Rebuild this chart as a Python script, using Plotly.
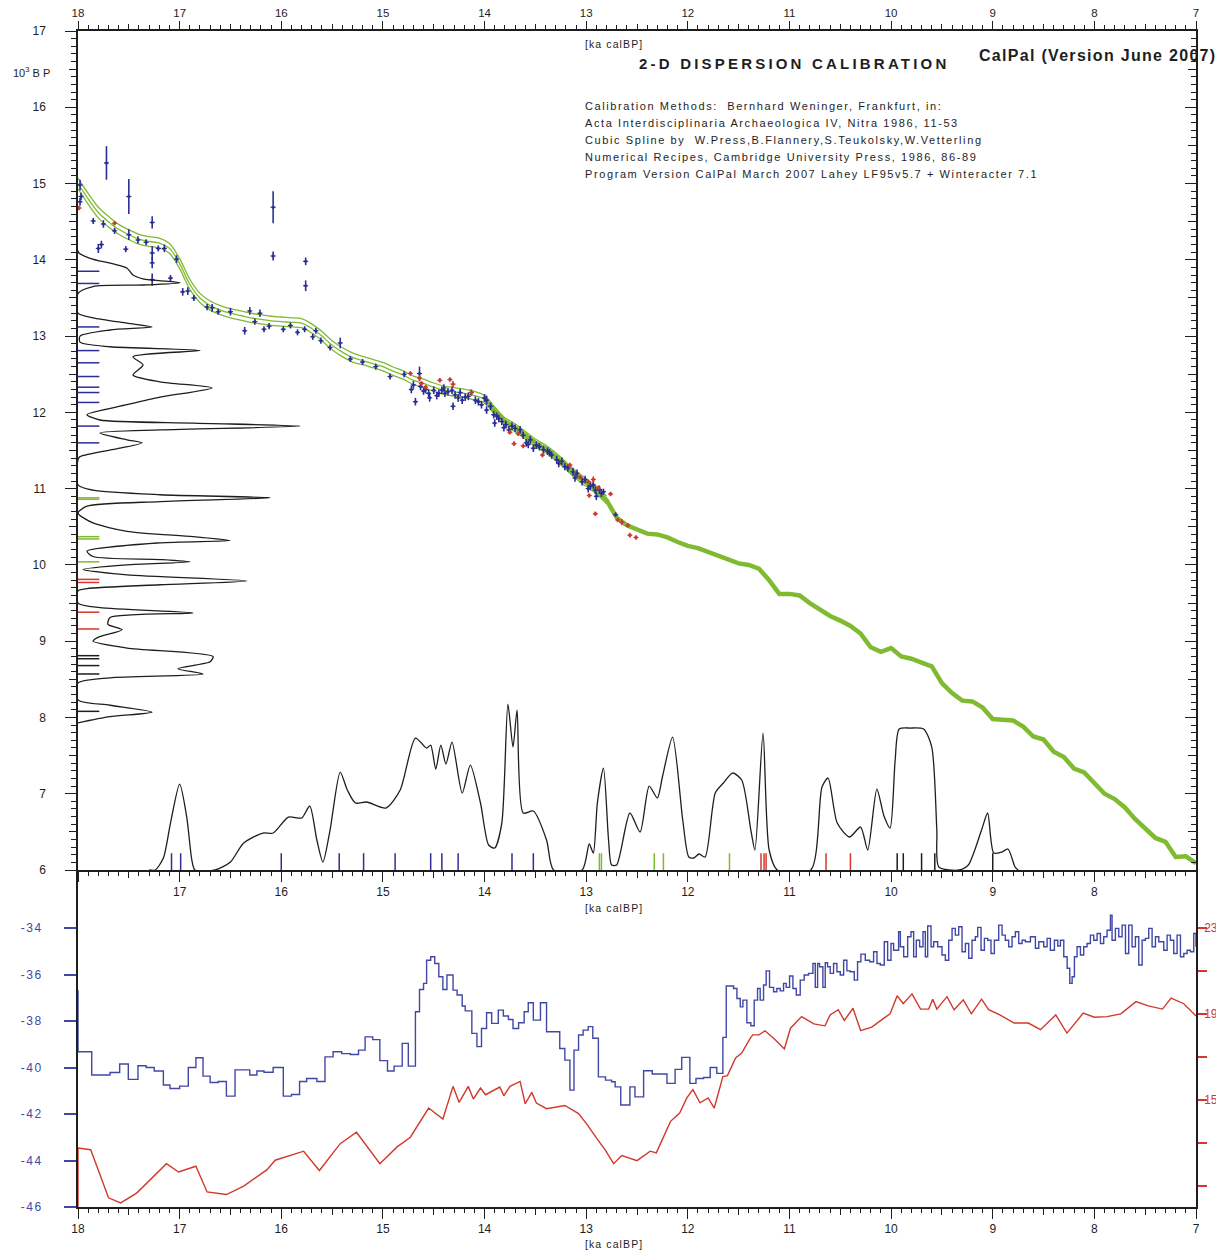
import plotly.graph_objects as go

# ---------------- data ----------------
cal_ka = [18.0,17.9,17.8,17.7,17.6,17.5,17.4,17.3,17.2,17.1,17.0,16.9,16.8,16.7,16.6,16.5,16.4,16.3,16.2,16.1,
          16.0,15.9,15.8,15.7,15.6,15.5,15.4,15.3,15.2,15.1,15.0,14.9,14.8,14.7,14.6,14.5,14.4,14.3,14.2,14.1,
          14.0,13.9,13.8,13.7,13.6,13.5,13.4,13.3,13.2,13.1,13.0,12.9,12.8,12.7,12.6,12.5,12.4,12.3,12.2,12.1,
          12.0,11.9,11.8,11.7,11.6,11.5,11.4,11.3,11.2,11.1,11.0,10.9,10.8,10.7,10.6,10.5,10.4,10.3,10.2,10.1,
          10.0,9.9,9.8,9.7,9.6,9.5,9.4,9.3,9.2,9.1,9.0,8.9,8.8,8.7,8.6,8.5,8.4,8.3,8.2,8.1,
          8.0,7.9,7.8,7.7,7.6,7.5,7.4,7.3,7.2,7.1,7.0]
cal_bp = [15.00,14.80,14.62,14.50,14.40,14.33,14.27,14.24,14.22,14.15,13.95,13.68,13.50,13.40,13.34,13.30,13.27,13.24,13.22,13.20,
          13.19,13.18,13.17,13.10,13.00,12.88,12.79,12.72,12.68,12.64,12.60,12.54,12.49,12.42,12.38,12.33,12.29,12.27,12.25,12.22,
          12.17,12.02,11.88,11.80,11.70,11.60,11.52,11.42,11.30,11.18,11.08,10.98,10.85,10.62,10.52,10.46,10.41,10.40,10.36,10.30,
          10.25,10.22,10.17,10.12,10.08,10.02,10.00,9.95,9.80,9.62,9.62,9.60,9.50,9.42,9.33,9.27,9.20,9.10,8.92,8.86,
          8.91,8.80,8.77,8.72,8.67,8.45,8.32,8.22,8.21,8.13,7.98,7.97,7.96,7.88,7.75,7.71,7.55,7.48,7.33,7.28,
          7.15,7.00,6.93,6.82,6.67,6.54,6.42,6.37,6.17,6.18,6.09]
# 1-sigma band of the curve (18.0 .. 12.8 ka)
cal_sig = [0.07,0.07,0.07,0.07,0.065,0.065,0.065,0.065,0.065,0.065,0.065,0.065,0.06,0.06,0.06,0.06,0.06,0.06,0.06,0.06,
           0.06,0.06,0.06,0.06,0.06,0.06,0.06,0.06,0.055,0.055,0.055,0.055,0.055,0.055,0.055,0.055,0.055,0.055,0.055,0.055,
           0.05,0.05,0.05,0.05,0.05,0.05,0.05,0.05,0.05,0.05,0.05,0.05,0.05]

blue_cal = [17.98,17.97,17.98,17.72,17.85,17.75,17.80,17.77,17.64,17.53,17.50,17.50,17.41,17.33,17.27,17.27,17.27,17.27,17.21,17.15,
            17.09,17.03,16.97,16.92,16.86,16.73,16.68,16.62,16.50,16.36,16.31,16.26,16.21,16.17,16.12,16.08,16.08,15.98,15.91,15.84,
            15.77,15.76,15.76,15.69,15.66,15.61,15.52,15.42,15.32,15.20,15.07,14.93,14.79,
            14.64,14.72,14.68,14.63,14.58,14.55,14.54,14.50,14.45,14.42,14.39,14.32,14.31,14.29,14.26,14.22,14.19,14.13,14.09,14.06,
            14.03,13.98,13.98,13.94,13.91,13.90,13.86,13.83,13.79,13.76,13.70,13.65,13.59,13.55,13.52,13.49,13.42,13.38,13.34,13.29,
            13.24,13.21,13.13,13.09,13.04,13.01,12.96,12.91,12.90,12.85,12.83,12.71,
            14.60,14.47,14.36,14.16,13.88,13.73,13.62,13.46,13.27,13.18,13.11,12.98,12.93,12.87,14.70,14.40,14.24,14.00,13.81,13.57,13.36]
blue_bp = [14.98,14.83,14.76,15.27,14.51,14.47,14.15,14.20,14.38,14.14,14.83,14.33,14.26,14.23,14.49,14.09,13.96,13.74,14.15,14.15,
           13.76,14.01,13.58,13.59,13.50,13.38,13.37,13.32,13.32,13.07,13.33,13.19,13.30,13.09,13.13,14.69,14.05,13.09,13.14,13.05,
           13.09,13.98,13.66,12.99,13.07,12.94,12.85,12.91,12.70,12.66,12.60,12.47,12.50,
           12.51,12.30,12.14,12.34,12.30,12.25,12.19,12.29,12.25,12.29,12.25,12.29,12.08,12.23,12.19,12.16,12.20,12.26,12.16,12.14,
           12.10,12.16,12.03,12.08,11.97,11.86,11.92,11.88,11.84,11.77,11.79,11.77,11.60,11.64,11.53,11.57,11.51,11.49,11.44,11.38,
           11.36,11.29,11.22,11.20,11.09,11.12,11.03,10.98,10.90,10.94,10.96,10.66,
           12.28,12.22,12.27,12.21,11.95,11.82,11.70,11.55,11.33,11.27,11.14,11.00,11.05,10.99,12.36,12.32,12.26,12.19,11.80,11.58,11.47]
blue_err = [0.07,0.05,0.05,0.22,0.04,0.05,0.06,0.05,0.04,0.04,0.23,0.07,0.05,0.04,0.08,0.09,0.07,0.08,0.04,0.05,
            0.04,0.05,0.05,0.05,0.04,0.04,0.05,0.04,0.05,0.05,0.05,0.04,0.05,0.04,0.04,0.21,0.06,0.04,0.04,0.04,
            0.04,0.05,0.07,0.04,0.04,0.04,0.04,0.07,0.04,0.04,0.04,0.04,0.04,
            0.09,0.05,0.05,0.05,0.05,0.05,0.05,0.05,0.05,0.05,0.05,0.05,0.05,0.05,0.05,0.05,0.05,0.04,0.05,0.05,
            0.05,0.06,0.05,0.05,0.05,0.05,0.05,0.05,0.05,0.05,0.05,0.05,0.05,0.05,0.05,0.05,0.05,0.05,0.05,0.05,
            0.05,0.05,0.05,0.05,0.05,0.05,0.05,0.05,0.05,0.05,0.04,0.03,
            0.05,0.05,0.05,0.05,0.05,0.05,0.05,0.05,0.05,0.05,0.05,0.05,0.05,0.05,0.05,0.05,0.05,0.05,0.05,0.05,0.05]

red_cal = [17.99,17.64,14.73,14.64,14.62,14.58,14.44,14.34,14.31,14.13,13.75,13.71,13.67,13.62,13.43,13.16,13.06,12.98,12.97,12.93,
           12.91,12.88,12.76,12.69,12.65,12.59,12.57,12.51]
red_bp = [14.68,14.48,12.51,12.45,12.38,12.33,12.42,12.43,12.37,12.26,11.74,11.59,11.72,11.56,11.44,11.31,11.15,11.09,10.91,11.12,
          10.67,11.01,10.93,10.59,10.56,10.52,10.39,10.36]
red_err = [0.03,0.03,0.03,0.04,0.03,0.03,0.03,0.03,0.04,0.03,0.03,0.03,0.03,0.03,0.03,0.03,0.03,0.03,0.03,0.04,
           0.03,0.03,0.03,0.03,0.04,0.03,0.03,0.03]

# 14C-age probability (vertical curve at left)
bp_grid = [14.12,14.09,14.02,13.89,13.80,13.75,13.70,13.67,13.65,13.56,13.30,13.24,13.17,13.12,13.08,13.00,12.92,12.86,12.81,12.73,
           12.62,12.49,12.40,12.32,12.20,12.10,11.97,11.90,11.86,11.82,11.77,11.73,11.64,11.60,11.53,11.42,11.38,11.05,10.98,10.92,
           10.88,10.83,10.77,10.68,10.55,10.44,10.37,10.32,10.29,10.18,10.11,10.07,10.04,10.00,9.94,9.87,9.79,9.74,9.69,9.66,
           9.50,9.44,9.37,9.31,9.22,9.15,9.05,9.00,8.91,8.80,8.73,8.64,8.57,8.52,8.45,8.23,8.16,8.07,8.01,7.93]
bp_prob = [0,1,12,49,55,65,102,65,15,0,0,15,49,74,32,2,2,32,122,55,
           65,55,82,134,82,49,9,22,115,222,82,22,49,64,42,2,0,0,15,82,
           192,82,9,0,15,49,115,152,82,9,15,82,112,49,5,49,169,82,9,0,
           0,22,115,32,30,44,20,15,49,135,132,100,125,32,0,0,32,74,32,0]

# calendric-age probability (curve at bottom)
ka_grid = [17.30,17.24,17.16,17.09,17.00,16.93,16.88,16.85,16.65,16.50,16.37,16.18,16.08,15.93,15.80,15.72,15.65,15.59,15.52,15.42,
           15.35,15.27,15.16,14.97,14.83,14.68,14.57,14.53,14.48,14.43,14.38,14.32,14.22,14.14,14.04,13.96,13.90,13.83,13.77,13.72,
           13.68,13.62,13.52,13.39,13.32,13.04,12.97,12.93,12.89,12.83,12.78,12.75,12.70,12.57,12.47,12.38,12.30,12.25,12.15,12.05,
           11.99,11.94,11.89,11.83,11.73,11.65,11.56,11.47,11.38,11.34,11.26,11.20,11.12,10.79,10.68,10.62,10.53,10.41,10.30,10.23,
           10.14,10.07,10.01,9.96,9.92,9.81,9.68,9.60,9.55,9.53,9.33,9.24,9.11,9.05,8.99,8.91,8.85,8.78,8.75]
ka_prob = [0,0,12,47,86,53,10,0,0,8,27,37,37,53,52,64,30,8,40,98,
           80,67,68,62,80,132,122,125,101,125,106,128,77,105,67,25,22,47,166,123,
           160,57,59,30,0,0,26,17,67,102,30,5,5,57,38,84,72,93,133,50,
           13,12,16,13,77,87,97,90,40,20,137,20,0,0,83,92,47,33,43,20,
           81,54,42,110,141,142,141,123,40,3,0,5,40,57,17,18,21,3,0]

# sample markers
tick_cal_blue = [17.08,16.99,16.00,15.43,15.19,14.88,14.53,14.42,14.26,13.73,13.52]
tick_cal_green = [12.87,12.85,12.33,12.24,11.59]
tick_cal_red = [11.28,11.25,11.23,10.64,10.40]
tick_cal_black = [9.94,9.88,9.70,9.57,9.00]
tick_bp_blue = [13.85,13.69,13.12,12.81,12.65,12.47,12.33,12.26,12.13,11.82,11.60]
tick_bp_green = [10.88,10.86,10.37,10.34,10.04]
tick_bp_red = [9.81,9.77,9.38,9.16]
tick_bp_black = [8.81,8.77,8.68,8.57,8.08]

# lower panel: blue step record (left axis) and red record (right axis)
blue_ka = [18.0,18.0,17.865,17.685,17.59,17.505,17.41,17.33,17.25,17.16,17.095,17.0,16.915,16.84,16.77,16.70,16.62,16.54,16.455,16.31,
           16.24,16.17,16.08,15.98,15.90,15.82,15.75,15.65,15.57,15.49,15.405,15.32,15.24,15.175,15.10,15.03,14.955,14.89,14.81,14.75,
           14.68,14.64,14.60,14.57,14.53,14.49,14.45,14.41,14.37,14.31,14.27,14.22,14.19,14.125,14.075,14.03,13.98,13.93,13.865,13.815,
           13.765,13.72,13.665,13.61,13.57,13.52,13.45,13.39,13.26,13.21,13.16,13.12,13.075,13.03,12.98,12.935,12.88,12.81,12.75,12.715,
           12.66,12.57,12.52,12.435,12.35,12.205,12.125,12.06,11.98,11.92,11.845,11.78,11.715,11.655,11.622,11.55,11.517,11.484,11.458,11.419,
           11.38,11.347,11.314,11.288,11.255,11.229,11.196,11.156,11.124,11.091,11.058,11.032,10.999,10.966,10.933,10.894,10.855,10.812,10.769,10.746,
           10.723,10.704,10.671,10.648,10.625,10.599,10.566,10.533,10.50,10.467,10.435,10.402,10.362,10.33,10.297,10.254,10.211,10.172,10.139,10.106,
           10.067,10.034,10.001,9.975,9.926,9.909,9.876,9.837,9.804,9.778,9.752,9.719,9.686,9.663,9.64,9.607,9.581,9.542,9.499,9.466,
           9.433,9.40,9.368,9.335,9.302,9.269,9.236,9.204,9.171,9.148,9.115,9.082,9.049,9.017,8.984,8.941,8.908,8.876,8.843,8.81,
           8.777,8.744,8.711,8.679,8.629,8.58,8.547,8.498,8.465,8.433,8.393,8.36,8.334,8.301,8.268,8.242,8.219,8.196,8.17,8.137,
           8.105,8.072,8.039,8.006,7.973,7.94,7.908,7.875,7.842,7.826,7.793,7.76,7.727,7.694,7.662,7.629,7.596,7.563,7.53,7.498,
           7.465,7.432,7.399,7.366,7.317,7.284,7.252,7.219,7.186,7.153,7.12,7.087,7.055,7.022,7.0]
blue_val = [-36.67,-39.32,-40.32,-40.21,-39.85,-40.51,-39.92,-40.0,-40.15,-40.75,-40.9,-40.8,-40.0,-39.58,-40.37,-40.64,-40.6,-41.23,-40.1,-40.32,
            -40.15,-40.2,-40.0,-41.23,-41.16,-40.6,-40.47,-40.6,-39.54,-39.32,-39.4,-39.44,-39.25,-38.68,-38.8,-39.7,-40.15,-39.94,-38.96,-39.94,
            -37.6,-36.64,-36.38,-35.38,-35.23,-35.52,-36.09,-36.64,-36.02,-36.67,-36.88,-37.35,-37.56,-38.53,-39.1,-38.32,-37.64,-38.1,-37.53,-37.78,
            -37.93,-38.32,-38.07,-37.6,-37.21,-37.96,-37.21,-38.46,-39.18,-39.68,-40.97,-39.25,-38.6,-38.39,-38.24,-38.74,-40.4,-40.54,-40.61,-40.83,
            -41.61,-40.83,-41.26,-40.14,-40.28,-40.68,-40.08,-39.56,-40.68,-40.47,-40.43,-40.0,-40.25,-38.7,-36.49,-36.6,-37.03,-37.39,-37.1,-38.07,
            -38.2,-37.1,-36.6,-37.1,-36.45,-35.84,-36.55,-36.74,-36.6,-36.7,-36.38,-36.55,-36.06,-36.6,-36.88,-36.24,-36.02,-35.95,-35.52,-36.55,
            -35.52,-35.66,-36.55,-35.49,-35.66,-35.95,-35.52,-35.88,-36.02,-35.38,-35.84,-35.88,-36.24,-35.45,-35.12,-35.38,-35.45,-35.02,-35.52,-35.59,
            -34.59,-35.38,-34.66,-34.95,-34.16,-34.80,-35.23,-34.37,-34.16,-35.23,-34.52,-34.8,-34.16,-35.23,-33.91,-34.8,-34.59,-34.8,-35.16,-35.38,
            -34.52,-34.01,-34.3,-33.94,-35.02,-34.66,-35.3,-34.52,-34.37,-33.97,-34.95,-34.44,-34.52,-35.09,-34.52,-33.87,-34.3,-34.52,-34.8,-34.37,
            -34.16,-34.66,-34.52,-34.59,-34.37,-34.87,-34.59,-34.8,-34.44,-34.95,-34.52,-34.77,-34.52,-35.23,-35.73,-36.38,-36.09,-35.23,-34.8,-35.16,
            -34.8,-34.66,-34.3,-34.52,-34.23,-34.66,-34.37,-34.09,-33.44,-34.52,-34.01,-34.37,-33.87,-35.09,-33.87,-34.8,-34.37,-35.59,-34.52,-34.44,
            -34.01,-34.8,-34.37,-34.59,-34.95,-34.3,-34.52,-35.09,-34.3,-35.23,-35.09,-34.95,-35.02,-34.23,-34.8]

red_ka = [18.0,18.0,17.875,17.70,17.58,17.42,17.13,17.01,16.84,16.73,16.54,16.37,16.14,16.06,15.78,15.625,15.42,15.26,15.03,14.86,
          14.73,14.55,14.41,14.31,14.25,14.16,14.11,14.04,13.99,13.85,13.81,13.75,13.65,13.60,13.535,13.49,13.39,13.21,13.075,12.99,
          12.90,12.81,12.73,12.65,12.50,12.37,12.31,12.17,12.08,12.01,11.95,11.88,11.80,11.74,11.655,11.61,11.53,11.47,11.385,11.36,
          11.30,11.24,11.14,11.05,10.99,10.88,10.76,10.65,10.60,10.52,10.46,10.375,10.30,10.19,10.07,10.01,9.94,9.88,9.795,9.71,
          9.63,9.59,9.55,9.45,9.38,9.29,9.21,9.11,9.04,8.93,8.79,8.65,8.53,8.38,8.27,8.11,8.0,7.875,7.74,7.59,
          7.47,7.33,7.245,7.12,7.0]
red_val = [10.0,12.75,12.67,10.43,10.19,10.66,12.02,11.63,11.9,10.70,10.58,10.97,11.74,12.18,12.6,11.7,12.95,13.48,12.02,12.8,
           13.25,14.61,14.1,15.62,14.87,15.62,15.03,15.54,15.23,15.59,15.19,15.62,15.85,14.81,15.34,14.84,14.58,14.73,14.35,13.84,
           13.22,12.64,12.02,12.4,12.16,12.6,12.52,13.99,14.38,15.08,15.47,14.85,15.08,14.61,16.08,16.12,16.94,17.17,17.87,18.02,
           18.02,18.21,17.79,17.36,18.33,18.87,18.53,18.44,18.95,19.19,18.69,19.26,18.22,18.38,18.80,19.0,19.84,19.47,19.93,19.22,
           19.22,19.68,19.22,19.8,19.19,19.65,19.0,19.68,19.19,18.95,18.57,18.57,18.26,18.95,18.10,19.03,18.84,18.87,19.0,19.57,
           19.37,19.22,19.73,19.47,18.9]

x_ticks = [18, 17, 16, 15, 14, 13, 12, 11, 10, 9, 8, 7]
y_ticks_top = [6, 7, 8, 9, 10, 11, 12, 13, 14, 15, 16, 17]
y_ticks_left2 = [-46, -44, -42, -40, -38, -36, -34]
y_ticks_right2 = [11, 13, 15, 17, 19, 21, 23]
y_text_right2 = ["", "", "15", "", "19", "", "23"]

# ---------------- styling constants ----------------
# the page adds an 8 px body margin, so the figure is 8 px smaller and margins shifted
W, H = 1216, 1243
L, R, T, B = 70, 28, 23, 44
PW, PH = W - L - R, H - T - B
SCR_L, SCR_B = 78, 1207          # plot-area left / bottom in screen pixels
SPLIT = (1207 - 870) / PH
BLUE_PT = "#2b2f95"
BLUE_LN = "#4048a6"
RED = "#d2382b"
GREEN = "#7fba30"
BLACK = "#1e1e1e"
FONT = "Liberation Sans, Arial, sans-serif"


def px(xs, ys):
    return (xs - SCR_L) / PW, (SCR_B - ys) / PH


def segs(vals, a, b, vertical=True):
    xs, ys = [], []
    for v in vals:
        if vertical:
            xs += [v, v, None]
            ys += [a, b, None]
        else:
            xs += [a, b, None]
            ys += [v, v, None]
    return xs, ys


def spaced(t, s):
    return '<span style="letter-spacing:%spx">%s</span>' % (s, t)


fig = go.Figure()

# calibration curve band (three thin lines) then thick curve
n_band = len(cal_sig)
for k in (-1, 0, 1):
    fig.add_trace(go.Scatter(
        x=cal_ka[:n_band], y=[b + k * s for b, s in zip(cal_bp[:n_band], cal_sig)],
        mode="lines", line=dict(color=GREEN, width=1.3, shape="spline"), hoverinfo="skip", showlegend=False))
i0 = cal_ka.index(14.0)
fig.add_trace(go.Scatter(x=cal_ka[i0:], y=cal_bp[i0:], mode="lines",
                         line=dict(color=GREEN, width=4.5), hoverinfo="skip", showlegend=False))

# data points
fig.add_trace(go.Scatter(
    x=blue_cal, y=blue_bp, mode="markers",
    marker=dict(color=BLUE_PT, size=3),
    error_y=dict(type="data", array=blue_err, color=BLUE_PT, thickness=1.6, width=0),
    error_x=dict(type="constant", value=0.025, color=BLUE_PT, thickness=1.2, width=0),
    hoverinfo="skip", showlegend=False))
fig.add_trace(go.Scatter(
    x=red_cal, y=red_bp, mode="markers",
    marker=dict(color=RED, size=3.5),
    error_y=dict(type="data", array=red_err, color=RED, thickness=1.6, width=0),
    error_x=dict(type="constant", value=0.025, color=RED, thickness=1.2, width=0),
    hoverinfo="skip", showlegend=False))

# probability curves
X_PER_UNIT = 1 / 101.6   # ka cal per density unit
Y_PER_UNIT = 1 / 76.3    # ka BP per density unit
fig.add_trace(go.Scatter(x=[18 - p * X_PER_UNIT for p in bp_prob], y=bp_grid, mode="lines",
                         line=dict(color=BLACK, width=1.3, shape="spline", smoothing=0.7),
                         hoverinfo="skip", showlegend=False))
fig.add_trace(go.Scatter(x=ka_grid, y=[6 + p * Y_PER_UNIT for p in ka_prob], mode="lines",
                         line=dict(color=BLACK, width=1.3, shape="spline", smoothing=0.7),
                         hoverinfo="skip", showlegend=False))

# sample markers
for vals, col in ((tick_cal_blue, BLUE_PT), (tick_cal_green, GREEN), (tick_cal_red, RED), (tick_cal_black, BLACK)):
    xs, ys = segs(vals, 6.0, 6.22)
    fig.add_trace(go.Scatter(x=xs, y=ys, mode="lines", line=dict(color=col, width=1.5),
                             hoverinfo="skip", showlegend=False))
for vals, col in ((tick_bp_blue, BLUE_PT), (tick_bp_green, GREEN), (tick_bp_red, RED), (tick_bp_black, BLACK)):
    xs, ys = segs(vals, 18.0, 17.79, vertical=False)
    fig.add_trace(go.Scatter(x=xs, y=ys, mode="lines", line=dict(color=col, width=1.5),
                             hoverinfo="skip", showlegend=False))

# lower panel
fig.add_trace(go.Scatter(x=blue_ka, y=blue_val, xaxis="x2", yaxis="y2", mode="lines",
                         line=dict(color=BLUE_LN, width=1.4, shape="hv"), hoverinfo="skip", showlegend=False))
fig.add_trace(go.Scatter(x=red_ka, y=red_val, xaxis="x2", yaxis="y3", mode="lines",
                         line=dict(color=RED, width=1.4), hoverinfo="skip", showlegend=False))

# empty traces so that the extra tick-only axes get drawn
for xa, ya in (("x3", "y"), ("x4", "y"), ("x5", "y"), ("x", "y4"), ("x", "y5"), ("x", "y6"), ("x6", "y2")):
    fig.add_trace(go.Scatter(x=[None], y=[None], xaxis=xa, yaxis=ya, mode="markers",
                             hoverinfo="skip", showlegend=False))

# ---------------- axes ----------------
tickfont = dict(family=FONT, size=12, color=BLACK)
base = dict(showgrid=False, zeroline=False, range=[18, 7], fixedrange=True, automargin=False)
ybase = dict(showgrid=False, zeroline=False, fixedrange=True, automargin=False)
half_x = [17.5 - i for i in range(11)]
half_y = [6.5 + i for i in range(11)]
minor_x = dict(tickmode="linear", tick0=7, dtick=0.1, ticklen=4, ticks="outside", tickcolor=BLACK, tickwidth=1)
minor_y_out = dict(tickmode="linear", tick0=6, dtick=0.1, ticklen=5, ticks="outside", tickcolor=BLACK, tickwidth=1)
minor_y_in = dict(tickmode="linear", tick0=6, dtick=0.1, ticklen=5, ticks="inside", tickcolor=BLACK, tickwidth=1)

layout = dict(
    width=W, height=H, margin=dict(l=L, r=R, t=T, b=B, autoexpand=False),
    paper_bgcolor="white", plot_bgcolor="white", showlegend=False,
    font=dict(family=FONT, color=BLACK),
    xaxis=dict(**base, domain=[0, 1], anchor="y", side="bottom", tickmode="array", tickvals=x_ticks,
               ticktext=[""] + [str(v) for v in x_ticks[1:-1]] + [""], ticks="outside", ticklen=10, tickwidth=1.2,
               tickcolor=BLACK, showline=True, linecolor=BLACK, linewidth=1.5, tickfont=tickfont, minor=minor_x),
    xaxis3=dict(**base, overlaying="x", anchor="y", side="top", tickmode="array", tickvals=x_ticks,
                ticktext=[str(v) for v in x_ticks], ticks="outside", ticklen=8, tickwidth=1.2, tickcolor=BLACK,
                showline=True, linecolor=BLACK, linewidth=1.5, tickfont=dict(family=FONT, size=11.5, color=BLACK),
                minor=minor_x),
    xaxis4=dict(**base, overlaying="x", anchor="y", side="bottom", tickmode="array", tickvals=half_x,
                ticks="outside", ticklen=7, tickwidth=1.2, tickcolor=BLACK, showticklabels=False),
    xaxis5=dict(**base, overlaying="x", anchor="y", side="top", tickmode="array", tickvals=half_x,
                ticks="outside", ticklen=6, tickwidth=1.2, tickcolor=BLACK, showticklabels=False),
    xaxis2=dict(**base, domain=[0, 1], anchor="y2", side="bottom", tickmode="array", tickvals=x_ticks,
                ticktext=[str(v) for v in x_ticks], ticks="outside", ticklen=10, tickwidth=1.2, tickcolor=BLACK,
                showline=True, linecolor=BLACK, linewidth=1.5, tickfont=tickfont, minor=minor_x),
    xaxis6=dict(**base, overlaying="x2", anchor="y2", side="bottom", tickmode="array", tickvals=half_x,
                ticks="outside", ticklen=7, tickwidth=1.2, tickcolor=BLACK, showticklabels=False),
    yaxis=dict(**ybase, domain=[SPLIT, 1], anchor="x", range=[6, 17],
               tickmode="array", tickvals=y_ticks_top, ticks="outside", ticklen=11, tickwidth=1.2, tickcolor=BLACK,
               showline=True, linecolor=BLACK, linewidth=1.5, tickfont=tickfont, ticklabelstandoff=17,
               minor=minor_y_out),
    yaxis4=dict(**ybase, overlaying="y", anchor="x", side="left", range=[6, 17],
                tickmode="array", tickvals=half_y, ticks="outside", ticklen=8, tickwidth=1.2,
                tickcolor=BLACK, showticklabels=False),
    yaxis5=dict(**ybase, overlaying="y", anchor="x", side="right", range=[6, 17],
                tickmode="array", tickvals=y_ticks_top, ticks="inside", ticklen=11, tickwidth=1.2, tickcolor=BLACK,
                showline=True, linecolor=BLACK, linewidth=1.5, showticklabels=False, minor=minor_y_in),
    yaxis6=dict(**ybase, overlaying="y", anchor="x", side="right", range=[6, 17],
                tickmode="array", tickvals=half_y, ticks="inside", ticklen=8, tickwidth=1.2,
                tickcolor=BLACK, showticklabels=False),
    yaxis2=dict(**ybase, domain=[0, SPLIT], anchor="x2", range=[-46, -31.5],
                tickmode="array", tickvals=y_ticks_left2, ticktext=[spaced(str(v), 1.6) for v in y_ticks_left2],
                ticks="outside", ticklen=12, tickwidth=1.5, tickcolor=BLUE_LN, showline=True, linecolor=BLACK,
                linewidth=1.5, tickfont=dict(family=FONT, size=12, color=BLUE_LN), ticklabelstandoff=19),
    yaxis3=dict(**ybase, overlaying="y2", anchor="x2", side="right", range=[10, 25.7],
                tickmode="array", tickvals=y_ticks_right2, ticktext=y_text_right2,
                ticks="outside", ticklen=9, tickwidth=1.5, tickcolor=RED, showline=True, linecolor=BLACK,
                linewidth=1.5, tickfont=dict(family=FONT, size=12, color=RED), ticklabelstandoff=-5),
)
fig.update_layout(**layout)

# ---------------- texts ----------------
def note(text, xs, ys, size=11, anchor="left", bold=False, color=BLACK, spacing=None):
    x, y = px(xs, ys)
    if bold:
        text = "<b>" + text + "</b>"
    if spacing is not None:
        text = spaced(text, spacing)
    fig.add_annotation(x=x, y=y, xref="paper", yref="paper", text=text, showarrow=False,
                       xanchor=anchor, yanchor="middle", font=dict(family=FONT, size=size, color=color))


note("[ka calBP]", 614, 44, size=10.5, anchor="center", spacing=1.1)
note("[ka calBP]", 614, 908, size=10.5, anchor="center", spacing=1.1)
note("[ka calBP]", 614, 1244, size=10.5, anchor="center", spacing=1.1)
note("10<sup>3</sup> B P", 31, 72, size=11, anchor="center")
note("2-D DISPERSION CALIBRATION", 794, 64, size=15, anchor="center", bold=True, spacing=3.2)
note("CalPal (Version June 2007)", 977, 55, size=16, anchor="left", bold=True, spacing=1.3)
info = ["Calibration Methods:  Bernhard Weninger, Frankfurt, in:",
        "Acta Interdisciplinaria Archaeologica IV, Nitra 1986, 11-53",
        "Cubic Spline by  W.Press,B.Flannery,S.Teukolsky,W.Vetterling",
        "Numerical Recipes, Cambridge University Press, 1986, 86-89",
        "Program Version CalPal March 2007 Lahey LF95v5.7 + Winteracter 7.1"]
for i, line in enumerate(info):
    note(line, 583, 106 + 17 * i, size=11, anchor="left", spacing=1.6)

fig.write_html("out.html")
